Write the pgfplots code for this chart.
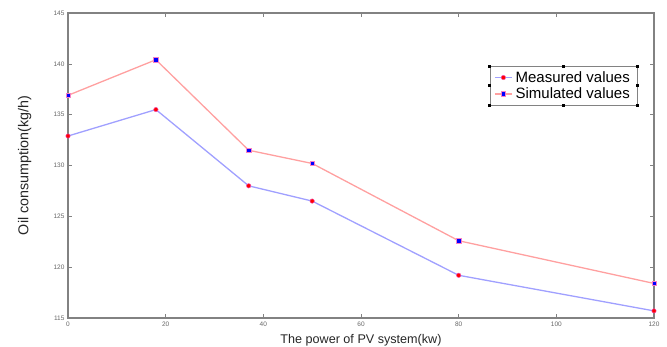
\documentclass[border=0pt]{standalone}
\usepackage{pgfplots}
\pgfplotsset{compat=1.18}
\usepackage{fontspec}
\setmainfont{Liberation Sans}
\definecolor{lblue}{RGB}{160,160,255}
\definecolor{lred}{RGB}{255,160,160}
\definecolor{axgray}{RGB}{130,130,130}
\begin{document}
\begin{tikzpicture}
\useasboundingbox (0,0) rectangle (667pt,347pt);
\begin{axis}[
  at={(68pt,29pt)}, anchor=south west,
  scale only axis, width=586pt, height=305pt,
  xmin=0, xmax=120, ymin=115, ymax=145,
  xtick={0,20,...,120}, ytick={115,120,...,145},
  tick align=inside, major tick length=4pt,
  axis line style={axgray, line width=1.1pt},
  tick style={axgray, line width=0.6pt},
  ticklabel style={font=\fontsize{6.5}{7}\selectfont, text=black!60},
  /pgf/number format/assume math mode=true,
  xlabel={The power of PV system(kw)},
  ylabel={Oil consumption(kg/h)},
  label style={text=black!85},
  xlabel style={font=\fontsize{12.6}{14}\selectfont, at={(axis description cs:0.5,0)}, anchor=north, yshift=-13pt},
  ylabel style={font=\fontsize{14.3}{16}\selectfont, at={(axis description cs:0,0.5)}, anchor=south, yshift=33pt},
  legend style={name=leg, at={(0.72,0.826)}, anchor=north west, draw=axgray, line width=0.6pt,
    font=\fontsize{15}{17}\selectfont, inner xsep=4pt, inner ysep=3pt, row sep=0pt,
    legend cell align=left,
    nodes={inner xsep=3pt}},
  legend image post style={xscale=1},
]
\addplot[lblue, line width=1.3pt, mark=*, mark size=2.2pt,
  mark options={fill=red, draw=magenta!70, line width=0.5pt}]
  coordinates {(0,132.9) (18,135.5) (37,128.0) (50,126.5) (80,119.2) (120,115.7)};
\addlegendentry{Measured values}
\addplot[lred, line width=1.3pt, mark=square*, mark size=2.2pt,
  mark options={fill=blue, draw=magenta!50, line width=0.5pt}]
  coordinates {(0,136.9) (18,140.4) (37,131.5) (50,130.2) (80,122.6) (120,118.4)};
\addlegendentry{Simulated values}
\end{axis}
\foreach \a in {north west,north,north east,east,south east,south,south west,west}
  \fill[black] (leg.\a) ++(-1.5pt,-1.5pt) rectangle ++(3pt,3pt);
\end{tikzpicture}
\end{document}
